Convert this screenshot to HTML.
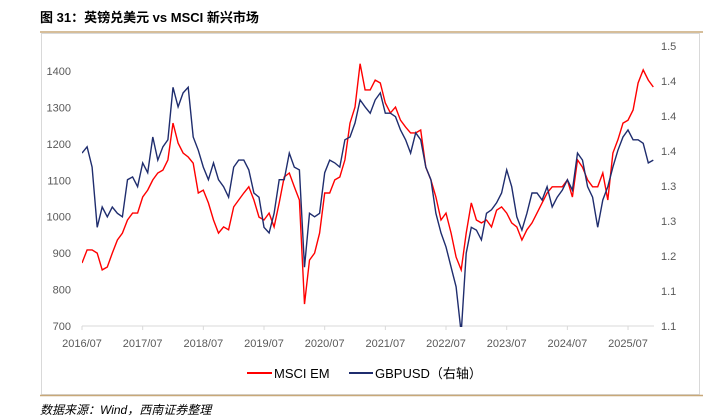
<!DOCTYPE html>
<html><head><meta charset="utf-8">
<style>
body{margin:0;background:#fff;width:710px;height:419px;overflow:hidden;font-family:"Liberation Sans","Noto Sans CJK SC",sans-serif;}
svg{position:absolute;left:0;top:0}
</style></head>
<body>
<svg id="c" width="710" height="419">
<text x="40" y="22" font-size="13" font-weight="bold" fill="#000">图 31：英镑兑美元 vs MSCI 新兴市场</text>
<line x1="40" y1="32" x2="703" y2="32" stroke="#c8a878" stroke-width="1.5"/>
<rect x="41.5" y="33.5" width="658" height="361" fill="none" stroke="#d9d9d9"/>
<line x1="82" y1="326" x2="654" y2="326" stroke="#d9d9d9"/>
<g id="ticks"></g>
<defs><clipPath id="clip"><rect x="82" y="30" width="575" height="297"/></clipPath></defs>
<g id="lines" clip-path="url(#clip)"></g>
<g>
<line x1="247" y1="373" x2="272" y2="373" stroke="#ff0000" stroke-width="2"/>
<text x="274" y="378" font-size="13" fill="#000">MSCI EM</text>
<line x1="349" y1="373" x2="373" y2="373" stroke="#1f2d6e" stroke-width="2"/>
<text x="375" y="378" font-size="13" fill="#000">GBPUSD（右轴）</text>
</g>
<line x1="40" y1="395.5" x2="703" y2="395.5" stroke="#c8a878" stroke-width="1.5"/>
<text x="40" y="414" font-size="12" font-style="italic" fill="#000">数据来源：Wind，西南证券整理</text>
</svg>
<script>
const xLabels=["2016/07","2017/07","2018/07","2019/07","2020/07","2021/07","2022/07","2023/07","2024/07","2025/07"];
const leftTicks=[700,800,900,1000,1100,1200,1300,1400];
const rightTicks=[1.10,1.15,1.20,1.25,1.30,1.35,1.40,1.45,1.50];
const msci=[873,909,909,900,854,862,900,936,955,991,1010,1010,
1054,1073,1101,1120,1128,1156,1257,1202,1175,1164,1147,1065,
1073,1038,991,955,972,964,1027,1046,1065,1082,1046,999,
991,1010,972,1038,1109,1120,1082,1046,760,881,900,955,
1065,1065,1101,1109,1156,1257,1301,1420,1348,1348,1375,1367,
1312,1285,1301,1265,1246,1230,1230,1238,1136,1101,1054,991,
1010,955,889,854,955,1038,991,983,991,972,1018,1027,
1010,983,972,936,964,983,1010,1038,1065,1082,1082,1082,
1101,1054,1156,1136,1101,1082,1082,1120,1046,1175,1211,1257,
1265,1293,1367,1403,1375,1356];
const gbp=[1.347,1.356,1.327,1.241,1.270,1.256,1.270,1.261,1.256,1.309,1.313,1.299,
1.333,1.319,1.370,1.337,1.356,1.366,1.441,1.413,1.433,1.441,1.370,1.351,
1.327,1.309,1.333,1.309,1.299,1.284,1.327,1.337,1.337,1.323,1.290,1.284,
1.241,1.233,1.261,1.309,1.309,1.347,1.327,1.323,1.184,1.261,1.256,1.261,
1.319,1.337,1.333,1.327,1.366,1.370,1.390,1.423,1.413,1.404,1.423,1.433,
1.404,1.404,1.399,1.380,1.366,1.347,1.376,1.366,1.327,1.309,1.261,1.233,
1.213,1.184,1.156,1.090,1.204,1.241,1.237,1.223,1.261,1.266,1.276,1.290,
1.323,1.299,1.256,1.237,1.261,1.290,1.290,1.280,1.299,1.270,1.284,1.294,
1.309,1.294,1.347,1.337,1.299,1.284,1.241,1.280,1.299,1.327,1.351,1.370,
1.380,1.366,1.366,1.361,1.333,1.337];
const NS="http://www.w3.org/2000/svg";
const xS=i=>82+i*(60.67/12);
const yL=v=>326-(v-700)*0.3643;
const yR=v=>326-(v-1.1)*700;
const T=document.getElementById('ticks'),L=document.getElementById('lines');
function txt(x,y,s,anchor){const t=document.createElementNS(NS,'text');t.setAttribute('x',x);t.setAttribute('y',y);t.setAttribute('font-size','11');t.setAttribute('fill','#595959');t.setAttribute('text-anchor',anchor);t.textContent=s;T.appendChild(t);return t;}
leftTicks.forEach(v=>{const t=txt(71,yL(v)+4,String(v),'end');

});
rightTicks.forEach(v=>{const t=txt(661,yR(v)+4,v.toFixed(1),'start');

});
xLabels.forEach((s,k)=>{const x=xS(k*12);const t=txt(x,347,s,'middle');


const l=document.createElementNS(NS,'line');l.setAttribute('x1',x);l.setAttribute('x2',x);l.setAttribute('y1',326);l.setAttribute('y2',330);l.setAttribute('stroke','#d9d9d9');


T.appendChild(l);});
function path(arr,fy,color,name){const p=document.createElementNS(NS,'path');
p.setAttribute('d',arr.map((v,i)=>(i?'L':'M')+xS(i).toFixed(1)+','+fy(v).toFixed(1)).join(''));
p.setAttribute('fill','none');p.setAttribute('stroke',color);p.setAttribute('stroke-width','1.4');


L.appendChild(p);}
path(msci,yL,'#ff0000','msci-em-line');
path(gbp,yR,'#1f2d6e','gbpusd-line');
</script>
</body></html>
